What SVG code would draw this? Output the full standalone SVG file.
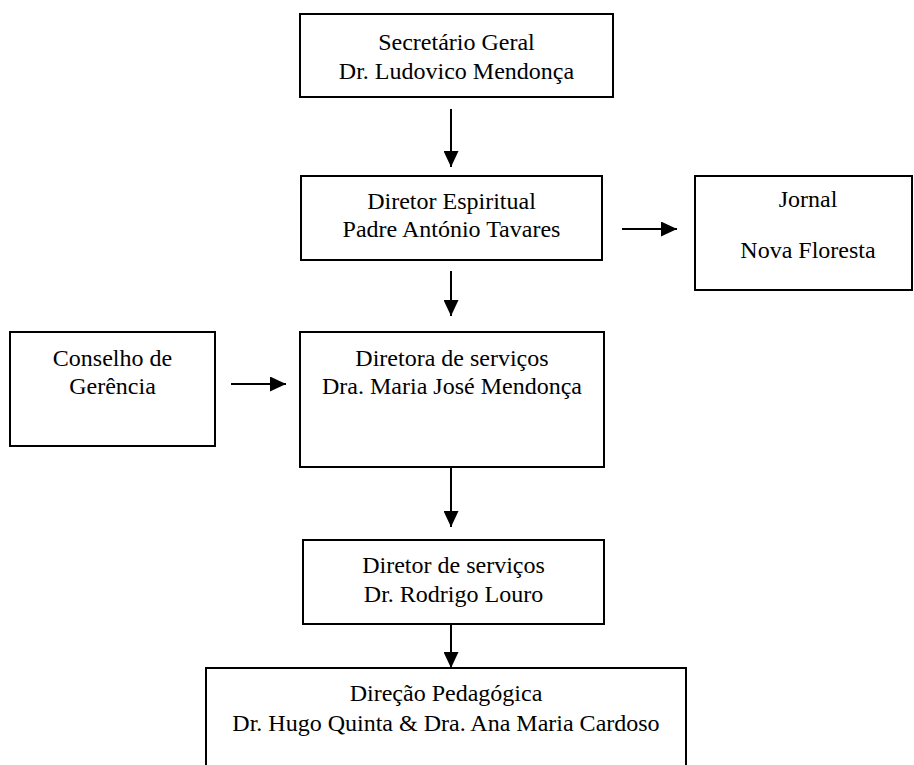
<svg xmlns="http://www.w3.org/2000/svg" width="914" height="765" viewBox="0 0 914 765">
<style>
.box{fill:#fff;stroke:#000;stroke-width:2}
.t{font-family:"Liberation Serif","Times New Roman",serif;font-size:24px;fill:#000;text-anchor:middle}
.c{stroke:#000;stroke-width:2;fill:none;marker-end:url(#ah)}
</style>
<defs>
<marker id="ah" markerUnits="userSpaceOnUse" markerWidth="16" markerHeight="15" refX="16" refY="7.5" orient="auto">
<path d="M0,0 L16,7.5 L0,15 Z" fill="#000"/>
</marker>
</defs>
<rect width="914" height="765" fill="#fff"/>
<g id="connectors">
<line class="c" x1="451" y1="109" x2="451" y2="167"/>
<line class="c" x1="451" y1="271" x2="451" y2="316"/>
<line class="c" x1="451" y1="462" x2="451" y2="527"/>
<line class="c" x1="451" y1="618" x2="451" y2="668"/>
<line class="c" x1="622" y1="229" x2="677" y2="229"/>
<line class="c" x1="231" y1="384" x2="286" y2="384"/>
</g>
<g id="secretario">
<rect class="box" x="300" y="14" width="313" height="83"/>
<text class="t" x="456.5" y="50">Secretário Geral</text>
<text class="t" x="456.5" y="79">Dr. Ludovico Mendonça</text>
</g>
<g id="diretor-espiritual">
<rect class="box" x="301" y="176" width="301" height="84"/>
<text class="t" x="451.5" y="209">Diretor Espiritual</text>
<text class="t" x="451.5" y="237">Padre António Tavares</text>
</g>
<g id="jornal">
<rect class="box" x="695" y="176" width="217" height="114"/>
<text class="t" x="808" y="207">Jornal</text>
<text class="t" x="808" y="258">Nova Floresta</text>
</g>
<g id="conselho">
<rect class="box" x="10" y="332" width="205" height="114"/>
<text class="t" x="112.5" y="366">Conselho de</text>
<text class="t" x="112.5" y="394">Gerência</text>
</g>
<g id="diretora">
<rect class="box" x="300" y="332" width="304" height="135"/>
<text class="t" x="452" y="366">Diretora de serviços</text>
<text class="t" x="452" y="394">Dra. Maria José Mendonça</text>
</g>
<g id="diretor-servicos">
<rect class="box" x="303" y="540" width="301" height="84"/>
<text class="t" x="453.5" y="573">Diretor de serviços</text>
<text class="t" x="453.5" y="602">Dr. Rodrigo Louro</text>
</g>
<g id="direcao-pedagogica">
<rect class="box" x="206" y="668" width="480" height="110"/>
<text class="t" x="446" y="701">Direção Pedagógica</text>
<text class="t" x="446" y="731">Dr. Hugo Quinta &amp; Dra. Ana Maria Cardoso</text>
</g>
</svg>
